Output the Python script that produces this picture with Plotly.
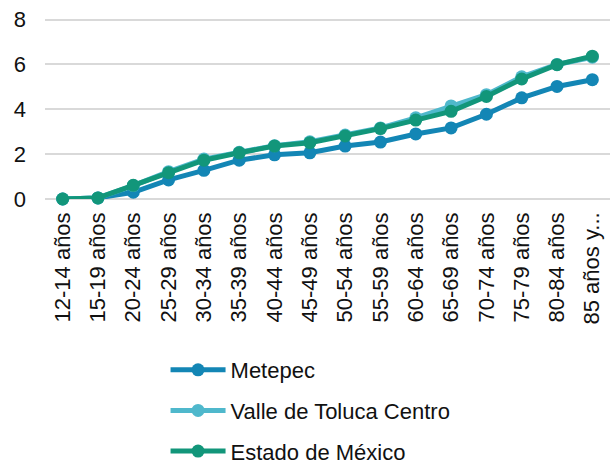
import plotly.graph_objects as go

# age groups on the category axis
grupos = ["12-14 años", "15-19 años", "20-24 años", "25-29 años", "30-34 años",
          "35-39 años", "40-44 años", "45-49 años", "50-54 años", "55-59 años",
          "60-64 años", "65-69 años", "70-74 años", "75-79 años", "80-84 años",
          "85 años y..."]

metepec = [0.0, 0.05, 0.30, 0.85, 1.28, 1.73, 1.97, 2.06, 2.36, 2.54,
           2.90, 3.17, 3.78, 4.51, 5.02, 5.32]
valle_toluca = [0.0, 0.05, 0.60, 1.22, 1.78, 2.08, 2.38, 2.55, 2.85, 3.17,
                3.62, 4.15, 4.65, 5.45, 6.00, 6.32]
edomex = [0.0, 0.05, 0.61, 1.17, 1.73, 2.06, 2.36, 2.51, 2.81, 3.14,
          3.52, 3.91, 4.57, 5.35, 5.99, 6.37]

series = [
    ("Metepec", metepec, "#1386B5"),
    ("Valle de Toluca Centro", valle_toluca, "#4FB8CC"),
    ("Estado de México", edomex, "#12967A"),
]

fig = go.Figure()
for nombre, valores, color in series:
    fig.add_trace(go.Scatter(
        x=grupos, y=valores, name=nombre, legendgroup=nombre,
        mode="lines+markers",
        line=dict(color=color, width=5),
        marker=dict(color=color, size=13),
        cliponaxis=False,
    ))

fig.update_layout(
    width=610, height=468,
    margin=dict(l=45, r=0, t=16, b=269, autoexpand=False),
    paper_bgcolor="white", plot_bgcolor="white",
    font=dict(family="Liberation Sans, Arial", size=22, color="#111111"),
    showlegend=True,
    legend=dict(orientation="v", x=0.47, xanchor="center", y=-0.82, yanchor="top",
                font=dict(size=22), tracegroupgap=9, itemwidth=55),
    xaxis=dict(type="category", range=[-0.5, 15.5], tickangle=-90, automargin=False,
               showgrid=False, showline=False, ticks="", zeroline=False,
               ticklabelstandoff=8, tickfont=dict(size=22)),
    # top a bit above 8 so the 8 gridline is not dropped at the edge
    yaxis=dict(range=[0, 8.16], tickvals=[0, 2, 4, 6, 8], showgrid=True,
               gridcolor="#D9D9D9", gridwidth=1.5,
               zeroline=True, zerolinecolor="#D9D9D9", zerolinewidth=1.5, automargin=False,
               showline=False, ticks="", ticklabelstandoff=18, tickfont=dict(size=22)),
)

# page body has a default 8px margin; drop it so the figure sits at the corner
fig.write_html("out.html", config={"displayModeBar": False},
               post_script="document.body.style.margin='0';")
